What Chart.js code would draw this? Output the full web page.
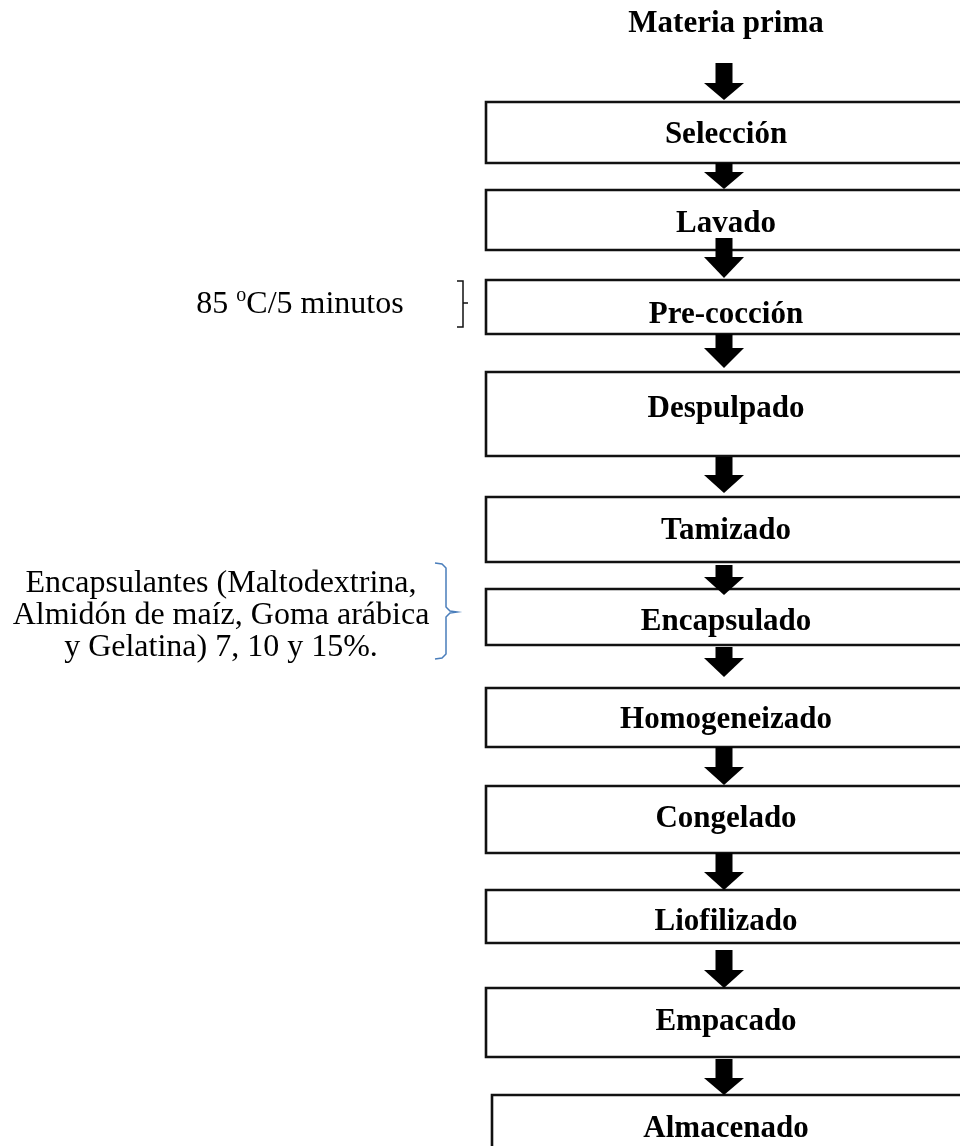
<!DOCTYPE html>
<html>
<head>
<meta charset="utf-8">
<script src="https://cdn.jsdelivr.net/npm/chart.js@4/dist/chart.umd.min.js"></script>
<style>
  html, body { margin: 0; padding: 0; background: #fff; }
  #flow { display: block; }
</style>
</head>
<body>
<canvas id="flow" width="960" height="1146"></canvas>
<script>
// Flow data (axis units: x 0-960, y 0-1146 from the top)
const titleLabel = 'Materia prima';
const titleY = 32;

const stepLabels = ['Selección', 'Lavado', 'Pre-cocción', 'Despulpado', 'Tamizado', 'Encapsulado',
    'Homogeneizado', 'Congelado', 'Liofilizado', 'Empacado', 'Almacenado'];
const stepTop = [102, 190, 280, 372, 497, 589, 688, 786, 890, 988, 1095];
const stepBottom = [163, 250, 334, 456, 562, 645, 747, 853, 943, 1057, 1170];
const stepLeft = [486, 486, 486, 486, 486, 486, 486, 486, 486, 486, 492];
const stepLabelY = [143, 232, 323, 417, 539, 630, 728, 827, 930, 1030, 1137];

// arrows: shaft start, head start, tip
const arrowTop = [63, 163, 238, 334, 457, 565, 647, 747, 853, 950, 1059];
const arrowNeck = [83, 172, 257, 348, 475, 577, 658, 767, 872, 970, 1078];
const arrowTip = [100, 189, 278, 368, 493, 595, 677, 785, 890, 988, 1095];

// side notes
const noteHeat = ['85 ', 'o', 'C/5 minutos'];
const noteHeatY = 313;
const noteHeatBrace = [281, 303, 327];
const noteEncLines = ['Encapsulantes (Maltodextrina,', 'Almidón de maíz, Goma arábica', 'y Gelatina) 7, 10 y 15%.'];
const noteEncY = [592, 624, 656];
const noteEncBrace = [563, 612, 659];

const flowX = 724;
const labelX = 726;
const boxRight = 1000;

const datasets = [];

// arrows first so they sit on top of the boxes
arrowTop.forEach((top, i) => {
    datasets.push({
        data: [
            {x: flowX - 8.5, y: arrowNeck[i] + 1},
            {x: flowX - 8.5, y: top},
            {x: flowX + 8.5, y: top},
            {x: flowX + 8.5, y: arrowNeck[i] + 1}
        ],
        showLine: true, borderWidth: 0, backgroundColor: '#000', fill: 'shape'
    });
    datasets.push({
        data: [
            {x: flowX - 20, y: arrowNeck[i]},
            {x: flowX, y: arrowTip[i]},
            {x: flowX + 20, y: arrowNeck[i]}
        ],
        showLine: true, borderWidth: 0, backgroundColor: '#000', fill: 'shape'
    });
});

// step boxes (right side runs off the page)
stepTop.forEach((top, i) => {
    datasets.push({
        data: [
            {x: boxRight, y: top},
            {x: stepLeft[i], y: top},
            {x: stepLeft[i], y: stepBottom[i]},
            {x: boxRight, y: stepBottom[i]}
        ],
        showLine: true, borderWidth: 2.6, borderColor: '#111', fill: false
    });
});

// braces
datasets.push({
    data: [
        {x: 457, y: noteHeatBrace[0]}, {x: 463, y: noteHeatBrace[0]},
        {x: 463, y: noteHeatBrace[1]}, {x: 468, y: noteHeatBrace[1]},
        {x: 463, y: noteHeatBrace[1]}, {x: 463, y: noteHeatBrace[2]},
        {x: 457, y: noteHeatBrace[2]}
    ],
    showLine: true, borderWidth: 1.5, borderColor: '#111', fill: false
});
datasets.push({
    data: [
        {x: 435, y: noteEncBrace[0]}, {x: 442, y: noteEncBrace[0] + 1}, {x: 446, y: noteEncBrace[0] + 5},
        {x: 446, y: noteEncBrace[1] - 5}, {x: 450, y: noteEncBrace[1] - 1}, {x: 457, y: noteEncBrace[1]},
        {x: 450, y: noteEncBrace[1] + 1}, {x: 446, y: noteEncBrace[1] + 5},
        {x: 446, y: noteEncBrace[2] - 5}, {x: 442, y: noteEncBrace[2] - 1}, {x: 435, y: noteEncBrace[2]}
    ],
    showLine: true, borderWidth: 1.5, borderColor: '#4a7ebb', fill: false
});

// Text drawn through the scales
const textPlugin = {
    id: 'flowText',
    afterDatasetsDraw(chart) {
        const {ctx, scales: {x, y}} = chart;
        ctx.save();
        ctx.fillStyle = '#000';
        ctx.textAlign = 'center';
        ctx.textBaseline = 'alphabetic';

        ctx.font = 'bold 31px "Liberation Serif", "Times New Roman", serif';
        ctx.fillText(titleLabel, x.getPixelForValue(labelX), y.getPixelForValue(titleY));
        stepLabels.forEach((label, i) => {
            ctx.fillText(label, x.getPixelForValue(labelX), y.getPixelForValue(stepLabelY[i]));
        });

        // 85 oC/5 minutos with raised o
        const big = '32px "Liberation Serif", "Times New Roman", serif';
        const small = '20px "Liberation Serif", "Times New Roman", serif';
        ctx.textAlign = 'left';
        ctx.font = big;
        const w1 = ctx.measureText(noteHeat[0]).width;
        const w3 = ctx.measureText(noteHeat[2]).width;
        ctx.font = small;
        const w2 = ctx.measureText(noteHeat[1]).width;
        let hx = x.getPixelForValue(300) - (w1 + w2 + w3) / 2;
        const hy = y.getPixelForValue(noteHeatY);
        ctx.font = big;
        ctx.fillText(noteHeat[0], hx, hy);
        hx += w1;
        ctx.font = small;
        ctx.fillText(noteHeat[1], hx, hy - 12);
        hx += w2;
        ctx.font = big;
        ctx.fillText(noteHeat[2], hx, hy);

        ctx.textAlign = 'center';
        noteEncLines.forEach((line, i) => {
            ctx.fillText(line, x.getPixelForValue(221), y.getPixelForValue(noteEncY[i]));
        });
        ctx.restore();
    }
};

new Chart(document.getElementById('flow'), {
    type: 'scatter',
    data: { datasets: datasets },
    options: {
        responsive: false,
        animation: false,
        layout: { padding: 0 },
        elements: { point: { radius: 0, hoverRadius: 0 }, line: { tension: 0 } },
        plugins: { legend: { display: false }, tooltip: { enabled: false } },
        scales: {
            x: { type: 'linear', min: 0, max: 960, display: false },
            y: { type: 'linear', min: 0, max: 1146, reverse: true, display: false }
        }
    },
    plugins: [textPlugin]
});
</script>
</body>
</html>
